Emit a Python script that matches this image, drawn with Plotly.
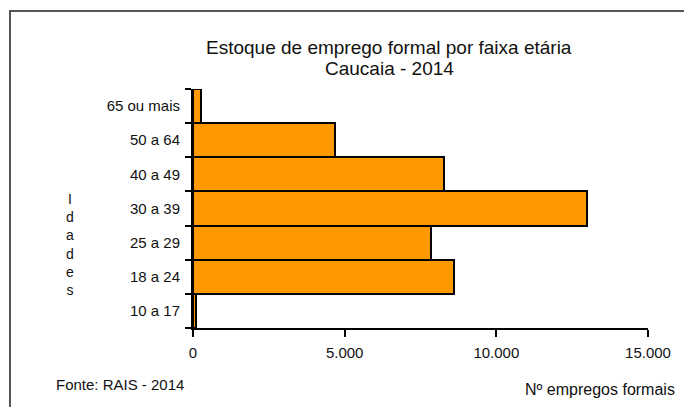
import plotly.graph_objects as go

categorias = ["10 a 17", "18 a 24", "25 a 29", "30 a 39", "40 a 49", "50 a 64", "65 ou mais"]
empregos = [110, 8600, 7830, 13000, 8270, 4670, 280]
x_ticks = [0, 5000, 10000, 15000]
x_ticklabels = ["0", "5.000", "10.000", "15.000"]

W, H = 692, 407
OFF = 8  # page body margin
# plot area in screenshot pixels: x 193..648, y 89..328
L, R, T, B = 193 - OFF, W - (648 - OFF), 89 - OFF, H - (328 - OFF)
pw, ph = W - L - R, H - T - B

def px(x):
    return (x - OFF - L) / pw

def py(y):
    return (H - B - (y - OFF)) / ph

font_ax = "Liberation Sans, Arial"

fig = go.Figure(go.Bar(
    x=empregos, y=categorias, orientation="h",
    marker=dict(color="#FF9900", line=dict(color="#000000", width=2)),
))

fig.update_layout(
    width=W, height=H,
    margin=dict(l=L, r=R, t=T, b=B),
    plot_bgcolor="white", paper_bgcolor="white",
    bargap=0, showlegend=False,
    font=dict(family=font_ax, size=15, color="#111"),
    xaxis=dict(range=[0, 15000], tickvals=x_ticks, ticktext=x_ticklabels,
               showgrid=False, zeroline=False, showline=True, linecolor="#000", linewidth=2,
               ticks="outside", ticklen=7, tickwidth=2, tickcolor="#000",
               ticklabelstandoff=3,
               tickfont=dict(size=15, family=font_ax)),
    yaxis=dict(showgrid=False, zeroline=False, showline=True, linecolor="#000", linewidth=2,
               ticks="outside", ticklen=6, tickwidth=2, tickcolor="#000", tickson="boundaries",
               ticklabelstandoff=8,
               tickfont=dict(size=15, family=font_ax)),
)

def note(x, y, text, size, xanchor="center"):
    fig.add_annotation(x=px(x), y=py(y), xref="paper", yref="paper",
                       xanchor=xanchor, yanchor="middle",
                       text=text, showarrow=False,
                       font=dict(size=size, family=font_ax, color="#111"))

note(389, 47, "Estoque de emprego formal por faixa etária", 19)
note(389, 68, "Caucaia - 2014", 19)
note(70, 245, "I<br>d<br>a<br>d<br>e<br>s", 14)
note(54, 384, "Fonte: RAIS - 2014", 15, "left")
note(677, 389, "Nº empregos formais", 16, "right")

fig.add_shape(type="rect", xref="paper", yref="paper",
              x0=px(10), x1=px(730), y0=py(11), y1=py(460),
              line=dict(color="#555", width=2), fillcolor="rgba(0,0,0,0)", layer="below")

fig.write_html("out.html")
